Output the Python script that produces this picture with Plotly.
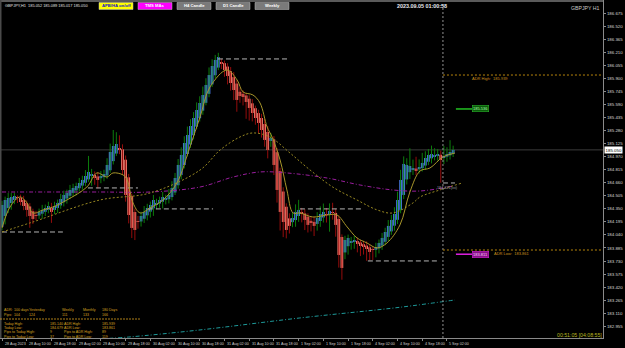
import plotly.graph_objects as go

# ---------------- data ----------------
symbol_line = "GBPJPY,H1  185.052 185.089 185.017 185.050"
clock_text = "2023.09.05 01:00:58"
pair_text = "GBPJPY H1"
countdown_text = "00:51:05 [04:08:55]"

# Heikin-Ashi / APB closes (H1 bars, 28 Aug 02:00 -> 5 Sep 04:00)
closes = [
    184.396, 184.455, 184.479, 184.491, 184.503, 184.479, 184.431, 184.384, 184.337, 184.265,
    184.230, 184.265, 184.313, 184.337, 184.360, 184.384, 184.313, 184.384, 184.420, 184.467,
    184.515, 184.538, 184.574, 184.598, 184.621, 184.657, 184.693, 184.740, 184.788, 184.764,
    184.716, 184.693, 184.740, 184.764, 184.871, 185.025, 185.096, 185.120, 185.049, 184.811,
    184.515, 184.277, 184.123, 184.099, 184.194, 184.265, 184.313, 184.360, 184.396, 184.455,
    184.420, 184.455, 184.491, 184.467, 184.515, 184.598, 184.716, 184.871, 184.990, 185.132,
    185.227, 185.334, 185.429, 185.524, 185.607, 185.702, 185.821, 185.939, 186.046, 186.118,
    186.153, 186.070, 185.999, 185.928, 185.844, 185.761, 185.643, 185.690, 185.678, 185.619,
    185.548, 185.488, 185.429, 185.370, 185.286, 185.168, 185.049, 185.191, 184.871, 184.574,
    184.313, 184.194, 184.099, 184.147, 184.241, 184.313, 184.337, 184.289, 184.218, 184.159,
    184.182, 184.147, 184.241, 184.289, 184.313, 184.277, 184.325, 184.301, 184.159, 183.802,
    183.648, 183.980, 184.004, 183.956, 183.980, 183.933, 183.909, 183.897, 183.873, 183.838,
    183.862, 183.897, 183.945, 184.004, 184.075, 184.147, 184.218, 184.289, 184.455, 184.693,
    184.883, 184.871, 184.859, 184.835, 184.811, 184.847, 184.895, 184.954, 184.990, 185.001,
    184.990, 185.001, 184.930, 184.978, 185.001, 185.025, 185.050,
]
first_open = 184.135

# wick extensions beyond the body, in pips
wick_up = [
    5, 4, 6, 5, 4, 3, 4, 5, 3, 4,
    3, 5, 4, 6, 4, 5, 6, 5, 4, 6,
    5, 4, 6, 5, 4, 6, 5, 7, 19, 6,
    4, 5, 6, 5, 8, 10, 19, 14, 16, 6,
    5, 4, 3, 4, 6, 5, 7, 5, 4, 6,
    5, 4, 6, 5, 7, 8, 6, 7, 9, 8,
    10, 8, 7, 9, 8, 10, 8, 9, 8, 6,
    5, 4, 3, 4, 5, 6, 4, 5, 4, 3,
    4, 5, 3, 4, 5, 6, 7, 6, 4, 5,
    4, 5, 4, 6, 7, 9, 12, 6, 5, 4,
    5, 6, 7, 9, 10, 8, 9, 12, 5, 4,
    3, 5, 4, 6, 5, 4, 3, 4, 5, 4,
    3, 5, 4, 6, 5, 7, 6, 8, 10, 12,
    9, 8, 21, 10, 14, 9, 12, 8, 7, 10,
    8, 6, 5, 12, 8, 14, 5,
]
wick_dn = [
    4, 10, 6, 8, 5, 6, 4, 5, 8, 14,
    6, 5, 4, 6, 5, 4, 13, 5, 6, 4,
    5, 6, 4, 5, 6, 4, 5, 4, 3, 12,
    8, 10, 6, 5, 4, 3, 4, 3, 5, 6,
    8, 10, 12, 12, 8, 6, 5, 6, 7, 9,
    6, 5, 8, 6, 5, 4, 3, 4, 5, 4,
    3, 4, 5, 3, 4, 5, 3, 4, 3, 4,
    3, 6, 8, 10, 9, 12, 14, 8, 10, 20,
    15, 10, 8, 12, 9, 8, 10, 7, 12, 15,
    22, 18, 10, 9, 6, 8, 7, 10, 12, 9,
    10, 12, 8, 7, 6, 9, 20, 8, 14, 15,
    14, 8, 10, 9, 8, 10, 12, 9, 14, 10,
    12, 9, 6, 5, 4, 5, 4, 6, 5, 4,
    5, 6, 8, 7, 6, 5, 4, 5, 4, 6,
    5, 6, 27, 8, 6, 5, 4,
]

# moving averages (bar index, price)
fast_ma_idx = [0, 2.6, 5.8, 8.1, 10, 13.3, 16.5, 21, 27.5, 30.7, 34, 35.9, 39.2, 40.5, 42.4, 44.7,
               47.9, 52.1, 56.6, 60.8, 64.1, 67.3, 72.8, 76.1, 78, 81.2, 83.5, 85.8, 87.4, 90,
               92.2, 94.2, 96.4, 100.6, 105.2, 108.4, 111.7, 114.9, 118.1, 121.4, 124.6, 128.8,
               132, 135.3, 138.5, 142.7, 146.6]
fast_ma_val = [184.123, 184.372, 184.491, 184.420, 184.301, 184.337, 184.372, 184.455, 184.610,
               184.776, 184.728, 184.776, 184.752, 184.693, 184.420, 184.301, 184.360, 184.455,
               184.657, 185.085, 185.441, 185.797, 185.999, 185.880, 185.738, 185.702, 185.607,
               185.322, 185.203, 184.930, 184.574, 184.301, 184.301, 184.253, 184.277, 184.277,
               184.135, 184.004, 183.945, 183.885, 183.945, 184.159, 184.550, 184.800, 184.835,
               184.966, 185.013]
slow_ma_idx = [0, 10, 31.7, 47.9, 64.1, 70.6, 77, 81.2, 86.7, 93.2, 99.7, 107.1, 114.9, 121.4,
               126.5, 133, 135.3, 141.7, 148.9]
slow_ma_val = [184.075, 184.194, 184.455, 184.538, 184.811, 185.049, 185.203, 185.251, 185.203,
               185.013, 184.811, 184.607, 184.455, 184.337, 184.301, 184.420, 184.491, 184.574,
               184.657]
long_ma_idx = [0, 31.7, 47.9, 64.1, 74.8, 83.5, 92.2, 105.2, 115.9, 126.5, 135.3, 146]
long_ma_val = [184.550, 184.550, 184.550, 184.609, 184.728, 184.788, 184.776, 184.716, 184.633,
               184.574, 184.562, 184.621]
teal_ma_idx = [31.7, 41.4, 64.1, 96.4, 128.8, 146.6]
teal_ma_val = [182.805, 182.829, 182.912, 183.054, 183.181, 183.268]

# previous session high / low dashed segments (start idx, end idx, price)
level_start = [0, 27.8, 47.2, 69.9, 96.4, 118.4, 142.7]
level_end = [19.7, 44, 68.3, 92.6, 116.8, 140.8, 146.6]
level_price = [184.075, 184.598, 184.349, 186.130, 184.349, 183.731, 184.657]

adr_high = 185.939
adr_low = 183.861
target_up = 185.536
target_dn = 183.811
day_sep_idx = 142.7

price_ticks = [186.675, 186.520, 186.365, 186.210, 186.055, 185.900, 185.745, 185.590, 185.435,
               185.280, 185.125, 184.970, 184.815, 184.660, 184.505, 184.350, 184.195, 184.040,
               183.885, 183.730, 183.575, 183.420, 183.265, 183.110, 182.955]

time_idx = [0, 8, 16, 24, 32, 40, 48, 56, 64, 72, 80, 88, 96, 104, 112, 120, 128, 136, 144]
time_lbl = ["28 Aug 2023", "28 Aug 10:00", "28 Aug 18:00", "29 Aug 02:00", "29 Aug 10:00",
            "29 Aug 18:00", "30 Aug 02:00", "30 Aug 10:00", "30 Aug 18:00", "31 Aug 02:00",
            "31 Aug 10:00", "31 Aug 18:00", "1 Sep 02:00", "1 Sep 10:00", "1 Sep 18:00",
            "4 Sep 02:00", "4 Sep 10:00", "4 Sep 18:00", "5 Sep 02:00"]

buttons = ["APB/HA on/off", "TMS MAs", "H4 Candle", "D1 Candle", "Weekly"]

table_rows = [
    ["ADR:", "100 days", "Yesterday", "Weekly", "Monthly", "180 Days"],
    ["Pips:", "104", "124", "111", "133", "166"],
]
table_rows2 = [
    ["Today High:", "185.140", "ADR High:", "185.939"],
    ["Today Low:", "184.679", "ADR Low:", "183.861"],
    ["Pips to Today High:", "9", "Pips to ADR High:", "89"],
    ["Pips to Today Low:", "37", "Pips to ADR Low:", "119"],
]

# ---------------- build ----------------
n = len(closes)
idx = list(range(n))
opens = [first_open]
for i in range(1, n):
    opens.append((opens[i - 1] + closes[i - 1]) / 2)

BLUE = "#4a7cea"
SALMON = "#fa8072"
GRN = "#0c7c0c"
RED = "#960c0c"

fig = go.Figure()

wx_g, wy_g, wx_r, wy_r = [], [], [], []
for i in idx:
    o, c = opens[i], closes[i]
    hi = max(o, c) + wick_up[i] * 0.01
    lo = min(o, c) - wick_dn[i] * 0.01
    if c >= o:
        wx_g += [i, i, None]; wy_g += [lo, hi, None]
    else:
        wx_r += [i, i, None]; wy_r += [lo, hi, None]
fig.add_trace(go.Scatter(x=wx_g, y=wy_g, mode="lines", line=dict(color=GRN, width=1), hoverinfo="skip"))
fig.add_trace(go.Scatter(x=wx_r, y=wy_r, mode="lines", line=dict(color=RED, width=1), hoverinfo="skip"))

fig.add_trace(go.Bar(
    x=idx, y=[max(abs(c - o), 0.004) for o, c in zip(opens, closes)],
    base=[min(o, c) for o, c in zip(opens, closes)],
    marker=dict(color=[BLUE if c >= o else SALMON for o, c in zip(opens, closes)], line=dict(width=0)),
    width=0.88, hoverinfo="skip"))

# dashed level segments
for s, e, p in zip(level_start, level_end, level_price):
    fig.add_trace(go.Scatter(x=[s, e], y=[p, p], mode="lines",
                             line=dict(color="#b4b4b4", width=1, dash="5px,3px"), hoverinfo="skip"))

fig.add_trace(go.Scatter(x=teal_ma_idx, y=teal_ma_val, mode="lines", line_shape="spline",
                         line=dict(color="#1e9a9a", width=1, dash="4px,2px,1px,2px"), hoverinfo="skip"))
fig.add_trace(go.Scatter(x=long_ma_idx, y=long_ma_val, mode="lines", line_shape="spline",
                         line=dict(color="#9a1e9e", width=1, dash="4px,2px,1px,2px"), hoverinfo="skip"))
fig.add_trace(go.Scatter(x=slow_ma_idx, y=slow_ma_val, mode="lines", line_shape="spline",
                         line=dict(color="#9a8a22", width=1, dash="2px,2px"), hoverinfo="skip"))
fig.add_trace(go.Scatter(x=fast_ma_idx, y=fast_ma_val, mode="lines", line_shape="spline",
                         line=dict(color="#a8962a", width=1), hoverinfo="skip"))

# target stubs
fig.add_trace(go.Scatter(x=[146.9, 152.1], y=[target_up, target_up], mode="lines",
                         line=dict(color="#22c022", width=1.5), hoverinfo="skip"))
fig.add_trace(go.Scatter(x=[146.9, 152.1], y=[target_dn, target_dn], mode="lines",
                         line=dict(color="#e020e0", width=1.5), hoverinfo="skip"))

PW, PH = 603.0, 338.0
def px(v):
    return v / PW
def py(v):
    return 1 - v / PH

shapes = []
ann = []
FONT = "Liberation Sans"

# bid line
shapes.append(dict(type="line", xref="paper", yref="y", x0=0, x1=1, y0=closes[-1], y1=closes[-1],
                   line=dict(color="#3c3c3c", width=1), layer="below"))
# day separator
shapes.append(dict(type="line", xref="x", yref="paper", x0=day_sep_idx, x1=day_sep_idx, y0=0, y1=1,
                   line=dict(color="#909090", width=1, dash="2px,2px")))
# ADR lines
for lvl in (adr_high, adr_low):
    shapes.append(dict(type="line", xref="x", yref="y", x0=day_sep_idx, x1=194.5, y0=lvl, y1=lvl,
                       line=dict(color="#b8860b", width=1, dash="2px,2px")))
# top strip and left border
shapes.append(dict(type="rect", xref="paper", yref="paper", x0=0, x1=1, y0=py(2), y1=1,
                   fillcolor="#5a5a5a", line=dict(width=0)))
shapes.append(dict(type="rect", xref="paper", yref="paper", x0=0, x1=px(1.5), y0=0, y1=1,
                   fillcolor="#4a4a4a", line=dict(width=0)))

# buttons
btn_x = [(99, 133), (138, 172), (177, 211), (216, 250), (255, 289)]
btn_fill = ["#ffff00", "#ff00ff", "#7a7a7a", "#7a7a7a", "#7a7a7a"]
btn_font = ["#1010c0", "#ffffff", "#ffffff", "#ffffff", "#ffffff"]
for (x0, x1), lab, fc, tc in zip(btn_x, buttons, btn_fill, btn_font):
    shapes.append(dict(type="rect", xref="paper", yref="paper", x0=px(x0), x1=px(x1), y0=py(9.5), y1=py(2.5),
                       fillcolor=fc, line=dict(color="#c0c0c0", width=0.5)))
    ann.append(dict(xref="paper", yref="paper", x=px((x0 + x1) / 2), y=py(6), text="<b>" + lab + "</b>",
                    showarrow=False, font=dict(family=FONT, size=4.2, color=tc), xanchor="center", yanchor="middle"))

ann.append(dict(xref="paper", yref="paper", x=px(3), y=py(5.5), text=symbol_line, showarrow=False,
                font=dict(family=FONT, size=3.9, color="#e0e0e0"), xanchor="left", yanchor="middle"))
ann.append(dict(xref="paper", yref="paper", x=px(395), y=py(6), text="<b>" + clock_text + "</b>", showarrow=False,
                font=dict(family=FONT, size=5.4, color="#e8e8f0"), xanchor="left", yanchor="middle"))
ann.append(dict(xref="paper", yref="paper", x=px(602), y=py(8.5), text=pair_text, showarrow=False,
                font=dict(family=FONT, size=5.2, color="#c8c8c8"), xanchor="right", yanchor="middle"))
ann.append(dict(xref="paper", yref="paper", x=px(604), y=py(335), text=countdown_text, showarrow=False,
                font=dict(family=FONT, size=5.2, color="#b8b820"), xanchor="right", yanchor="middle"))

# ADR labels and target boxes
ann.append(dict(xref="paper", yref="y", x=px(470), y=adr_high, yshift=-3, text="ADR High:  %.3f" % adr_high,
                showarrow=False, font=dict(family=FONT, size=4, color="#c8901e"), xanchor="left", yanchor="middle"))
ann.append(dict(xref="paper", yref="y", x=px(492), y=adr_low, yshift=-3.5, text="ADR Low:  %.3f" % adr_low,
                showarrow=False, font=dict(family=FONT, size=4, color="#c8901e"), xanchor="left", yanchor="middle"))
ann.append(dict(xref="x", yref="y", x=152.1, y=target_up, text="%.3f" % target_up, showarrow=False,
                font=dict(family=FONT, size=4, color="#b0ffb0"), bgcolor="#0a5a0a", bordercolor="#30c030",
                borderwidth=0.5, borderpad=0.5, xanchor="left", yanchor="middle"))
ann.append(dict(xref="x", yref="y", x=152.1, y=target_dn, text="%.3f" % target_dn, showarrow=False,
                font=dict(family=FONT, size=4, color="#ffd0ff"), bgcolor="#8a108a", bordercolor="#e020e0",
                borderwidth=0.5, borderpad=0.5, xanchor="left", yanchor="middle"))
ann.append(dict(xref="x", yref="y", x=140, y=long_ma_val[-1], yshift=-2, text="184.621(xx)", showarrow=False,
                font=dict(family=FONT, size=3.8, color="#9a9aa0"), xanchor="left", yanchor="middle"))

# bid box
ann.append(dict(xref="paper", yref="y", x=1, xshift=1, y=closes[-1], text="%.3f" % closes[-1], showarrow=False,
                font=dict(family=FONT, size=4.4, color="#000000"), bgcolor="#ffffff", borderpad=0.5,
                xanchor="left", yanchor="middle"))

# time labels
for ti, tl in zip(time_idx, time_lbl):
    ann.append(dict(xref="x", yref="paper", x=ti, y=0, yshift=-1.5, xshift=0.5, text=tl, showarrow=False,
                    font=dict(family=FONT, size=3.7, color="#d0d0d0"), xanchor="left", yanchor="top"))

# ADR table
tcol = "#d8a020"
col1 = [2, 12, 27, 60, 81, 100]
for r, row in enumerate(table_rows):
    for cx, t in zip(col1, row):
        ann.append(dict(xref="paper", yref="paper", x=px(cx), y=py(310 + 4.6 * r), text=t, showarrow=False,
                        font=dict(family=FONT, size=3.6, color=tcol), xanchor="left", yanchor="middle"))
shapes.append(dict(type="line", xref="paper", yref="paper", x0=0, x1=px(140), y0=py(319), y1=py(319),
                   line=dict(color=tcol, width=0.8, dash="2px,1px")))
col2 = [2, 48, 62, 100]
for r, row in enumerate(table_rows2):
    for cx, t in zip(col2, row):
        ann.append(dict(xref="paper", yref="paper", x=px(cx), y=py(323.5 + 4.4 * r), text=t, showarrow=False,
                        font=dict(family=FONT, size=3.6, color=tcol), xanchor="left", yanchor="middle"))

fig.update_layout(
    width=625, height=348,
    margin=dict(l=0, r=22, t=0, b=10),
    paper_bgcolor="#000000", plot_bgcolor="#000000",
    showlegend=False, barmode="overlay", hovermode=False,
    shapes=shapes, annotations=ann,
    xaxis=dict(range=[-0.65, 194.5], showgrid=False, zeroline=False, showline=True, linecolor="#8a8a8a",
               linewidth=1, ticks="outside", ticklen=2, tickcolor="#8a8a8a", tickvals=time_idx,
               showticklabels=False, fixedrange=True),
    yaxis=dict(range=[182.816, 186.830], side="right", showgrid=False, zeroline=False, showline=True,
               linecolor="#8a8a8a", linewidth=1, ticks="outside", ticklen=2, tickcolor="#8a8a8a",
               tickvals=price_ticks, ticktext=["%.3f" % v for v in price_ticks],
               tickfont=dict(family=FONT, size=4.4, color="#d8d8d8"), fixedrange=True),
)

fig.write_html("out.html")
